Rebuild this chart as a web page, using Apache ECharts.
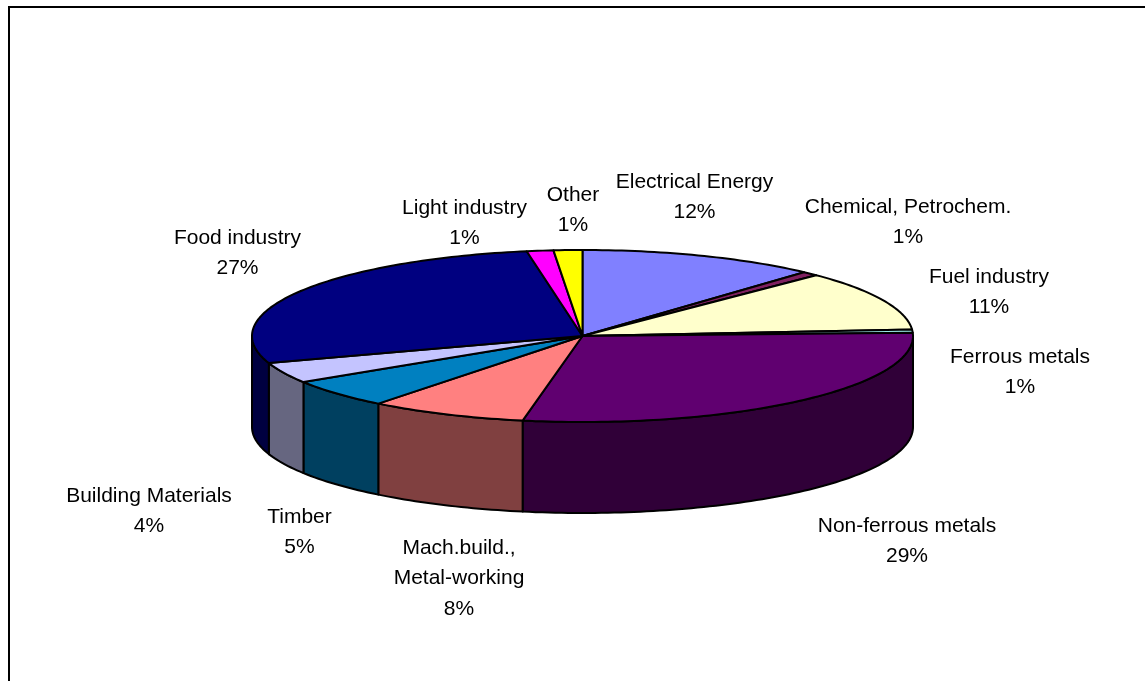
<!DOCTYPE html>
<html><head><meta charset="utf-8">
<style>html,body{margin:0;padding:0;background:#fff}#c{width:1145px;height:681px}</style>
<script src="https://cdn.jsdelivr.net/npm/echarts@6/dist/echarts.min.js"></script>
</head><body><div id="c"></div>
<script>
const categories = ["Electrical Energy","Chemical, Petrochem.","Fuel industry","Ferrous metals","Non-ferrous metals","Mach.build.,\nMetal-working","Timber","Building Materials","Food industry","Light industry","Other"];
const shares = [11.7,0.8,11.3,0.6,28.5,7.7,5.4,3.9,27.4,1.3,1.4];
const topColors = ["#8080FF","#802060","#FFFFCC","#99E6E6","#600070","#FF8080","#0080C0","#C4C4FF","#000080","#FF00FF","#FFFF00"];
const wallColors = ["#404080","#401030","#808066","#407070","#300038","#804040","#004060","#666680","#000040","#800080","#808000"];
const labelAnchors = [[694.5,182],[908,207],[989,277],[1020,357],[907,526],[459,548],[299.5,517],[149,496],[237.5,238],[464.5,208],[573,195]];

const CX=582.5, CY=336, RX=330.5, RY=86, DEPTH=91, LINE_H=30.5;
const total = shares.reduce((a,b)=>a+b,0);
const starts = shares.reduce((acc,v,i)=>{acc.push(i===0?0:acc[i-1]+shares[i-1]);return acc;},[]);
const pt=(a,dy)=>[CX+RX*Math.sin(a),CY-RY*Math.cos(a)+(dy||0)];
function arc(a0,a1,dy){
  const n=Math.max(2,Math.ceil((a1-a0)/0.02)), out=[];
  for(let k=0;k<=n;k++) out.push(pt(a0+(a1-a0)*k/n,dy));
  return out;
}
const line={stroke:'#000',lineWidth:2,lineJoin:'round'};
function renderItem(params,api){
  const i=params.dataIndex, v=api.value(0);
  const a0=starts[i]/total*2*Math.PI, a1=a0+v/total*2*Math.PI;
  const children=[];
  const w0=Math.max(a0,Math.PI/2), w1=Math.min(a1,Math.PI*1.5);
  if(w1>w0){
    const pts=arc(w0,w1,0).concat(arc(w0,w1,DEPTH).reverse());
    children.push({type:'polygon',shape:{points:pts},style:Object.assign({fill:wallColors[i]},line)});
  }
  children.push({type:'polygon',shape:{points:[[CX,CY]].concat(arc(a0,a1,0))},style:Object.assign({fill:topColors[i]},line)});
  const lab=categories[i]+"\n"+Math.round(v)+"%";
  children.push({type:'text',x:labelAnchors[i][0],y:labelAnchors[i][1]-LINE_H/2,style:{text:lab,fill:'#000',font:'21px "Liberation Sans", Arial, sans-serif',align:'center',verticalAlign:'top',lineHeight:LINE_H},z2:10});
  return {type:'group',children};
}
const chart=echarts.init(document.getElementById('c'),null,{renderer:'canvas'});
chart.setOption({
  animation:false,
  backgroundColor:'#fff',
  graphic:[
    {type:'polyline',shape:{points:[[9,690],[9,7],[1150,7]]},style:{stroke:'#000',lineWidth:2,fill:null},silent:true}
  ],
  series:[{type:'custom',coordinateSystem:'none',renderItem,data:shares.map(v=>[v]),encode:{value:0}}]
});
</script></body></html>
